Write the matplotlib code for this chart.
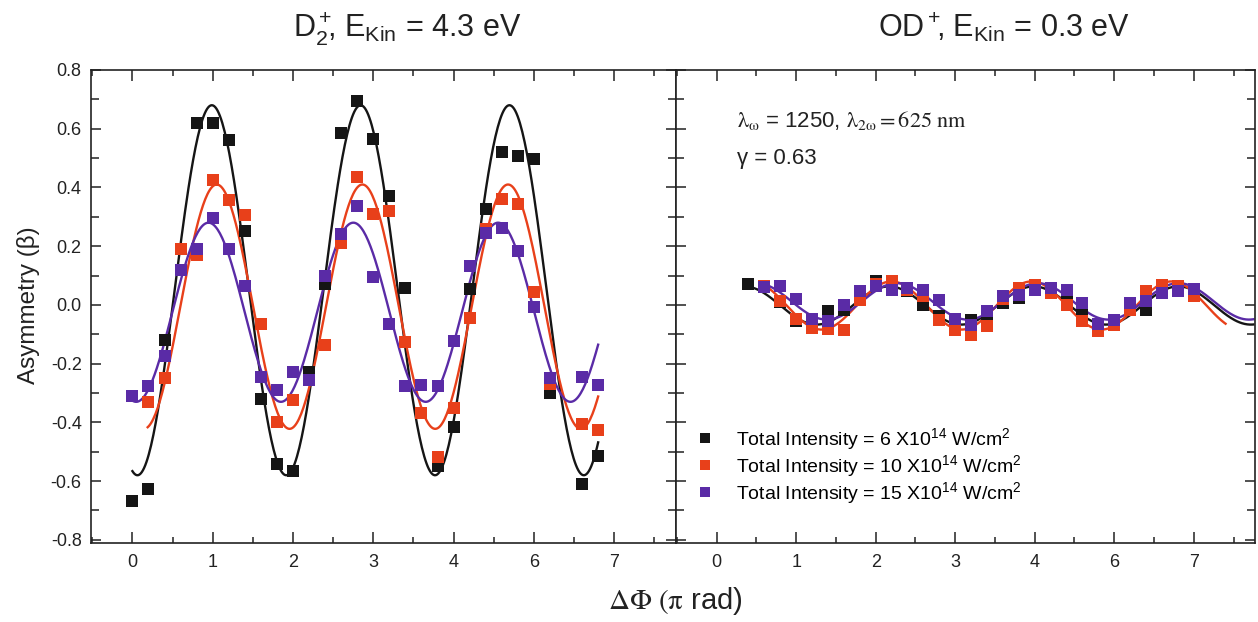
import numpy as np
import matplotlib
matplotlib.use("Agg")
import matplotlib.pyplot as plt
from matplotlib.ticker import FixedLocator, FixedFormatter, MultipleLocator
from matplotlib.lines import Line2D

plt.rcParams['font.family'] = ['Liberation Sans', 'DejaVu Sans']
plt.rcParams['mathtext.fontset'] = 'custom'
plt.rcParams['mathtext.rm'] = 'Liberation Sans'
plt.rcParams['mathtext.it'] = 'Liberation Sans:italic'
plt.rcParams['mathtext.bf'] = 'Liberation Sans:bold'
plt.rcParams['axes.unicode_minus'] = False

nan = np.nan

# ---------------- data ----------------
tick_positions = [0, 1, 2, 3, 4, 5, 6]
tick_labels = ['0', '1', '2', '3', '4', '6', '7']
ytick_values = [-0.8, -0.6, -0.4, -0.2, 0.0, 0.2, 0.4, 0.6, 0.8]
ytick_labels = ['-0.8', '-0.6', '-0.4', '-0.2', '0.0', '0.2', '0.4', '0.6', '0.8']

series_labels = [r'Total Intensity = 6 X10$^{14}$ W/cm$^2$',
                 r'Total Intensity = 10 X10$^{14}$ W/cm$^2$',
                 r'Total Intensity = 15 X10$^{14}$ W/cm$^2$']
series_colors = ['#151515', '#E8401A', '#5A2BA6']

# left panel (D2+)
phase_left = [0.0, 0.2, 0.4, 0.6, 0.8, 1.0, 1.2, 1.4, 1.6, 1.8,
              2.0, 2.2, 2.4, 2.6, 2.8, 3.0, 3.2, 3.4, 3.6, 3.8,
              4.0, 4.2, 4.4, 4.6, 4.8, 5.0, 5.2, 5.4, 5.6, 5.8]
left_black = [-0.666, -0.627, -0.118, nan, 0.620, 0.618, 0.561, 0.250, -0.320, -0.541,
              -0.567, -0.230, 0.072, 0.586, 0.693, 0.564, 0.370, 0.056, nan, -0.548,
              -0.416, 0.054, 0.325, 0.520, 0.507, 0.498, -0.300, nan, -0.609, -0.516]
left_red = [nan, -0.329, -0.249, 0.192, 0.171, 0.425, 0.357, 0.306, -0.065, -0.399,
            -0.325, nan, -0.135, 0.210, 0.436, 0.311, 0.319, -0.126, -0.367, -0.519,
            -0.351, -0.044, 0.260, 0.359, 0.342, 0.043, -0.268, nan, -0.407, -0.425]
left_purple = [-0.309, -0.277, -0.173, 0.118, 0.191, 0.297, 0.192, 0.064, -0.247, -0.291,
               -0.229, -0.257, 0.100, 0.242, 0.336, 0.095, -0.064, -0.277, -0.272, -0.275,
               -0.123, 0.132, 0.245, 0.262, 0.182, -0.008, -0.249, nan, -0.245, -0.274]

# right panel (OD+)
phase_right = [0.4, 0.6, 0.8, 1.0, 1.2, 1.4, 1.6, 1.8, 2.0, 2.2,
               2.4, 2.6, 2.8, 3.0, 3.2, 3.4, 3.6, 3.8, 4.0, 4.2,
               4.4, 4.6, 4.8, 5.0, 5.2, 5.4, 5.6, 5.8, 6.0]
right_black = [0.070, nan, 0.010, -0.056, -0.062, -0.022, -0.016, 0.020, 0.080, nan,
               0.046, 0.001, -0.039, -0.060, -0.052, -0.033, 0.007, 0.024, 0.060, 0.050,
               0.029, -0.022, -0.070, -0.060, -0.010, -0.016, 0.050, 0.050, nan]
right_red = [nan, 0.066, 0.012, -0.048, -0.078, -0.082, -0.084, 0.018, 0.070, 0.080,
             0.050, 0.029, -0.050, -0.084, -0.101, -0.073, 0.020, 0.058, 0.069, 0.041,
             0.001, -0.056, -0.090, -0.067, -0.018, 0.046, 0.069, 0.063, 0.029]
right_purple = [nan, 0.060, 0.066, 0.020, -0.048, -0.056, 0.001, 0.046, 0.063, 0.052,
                0.058, 0.052, 0.016, -0.048, -0.067, -0.022, 0.029, 0.035, 0.052, 0.058,
                0.052, 0.007, -0.064, -0.050, 0.007, 0.012, 0.041, 0.046, 0.055]

# sine-fit parameters: offset, amplitude, peak position, period, start, end
fit_left = [(0.050, 0.630, 0.989, 1.853, 0.00, 5.80),
            (-0.006, 0.416, 1.050, 1.814, 0.19, 5.80),
            (-0.025, 0.305, 0.948, 1.803, 0.00, 5.80)]
fit_right = [(-0.002, 0.065, 2.167, 1.820, 0.45, 6.75),
             (-0.002, 0.082, 2.200, 1.760, 0.58, 6.40),
             (0.012, 0.062, 2.270, 1.770, 0.58, 6.75)]

# ---------------- figure ----------------
fig = plt.figure(figsize=(12.58, 6.22), dpi=100)
ax1 = fig.add_axes([0.0727, 0.1264, 0.4647, 0.7611])
ax2 = fig.add_axes([0.5374, 0.1264, 0.4602, 0.7611])

xlim = (-0.51, 6.77)
ylim = (-0.812, 0.80)


def style(ax, show_y):
    ax.set_xlim(*xlim)
    ax.set_ylim(*ylim)
    ax.xaxis.set_major_locator(FixedLocator(tick_positions))
    ax.xaxis.set_major_formatter(FixedFormatter(tick_labels))
    ax.xaxis.set_minor_locator(MultipleLocator(0.5))
    ax.yaxis.set_major_locator(FixedLocator(ytick_values))
    ax.yaxis.set_minor_locator(MultipleLocator(0.1))
    if show_y:
        ax.yaxis.set_major_formatter(FixedFormatter(ytick_labels))
    else:
        ax.set_yticklabels([])
    ax.tick_params(axis='both', which='both', direction='in', top=True, right=True,
                   color='#222222', width=1.1)
    ax.tick_params(axis='x', which='major', length=8, labelsize=13, pad=8, labelcolor='#222222')
    ax.tick_params(axis='x', which='minor', length=4.5)
    ax.tick_params(axis='y', which='major', length=7, labelsize=13, pad=7, labelcolor='#222222')
    ax.tick_params(axis='y', which='minor', length=6)
    for sp in ax.spines.values():
        sp.set_linewidth(1.2)
        sp.set_color('#222222')


style(ax1, True)
style(ax2, False)

left_sets = [left_black, left_red, left_purple]
right_sets = [right_black, right_red, right_purple]

for ax, xs, sets, fits in [(ax1, phase_left, left_sets, fit_left),
                           (ax2, phase_right, right_sets, fit_right)]:
    for vals, col, fp in zip(sets, series_colors, fits):
        y0, A, xp, P, xa, xb = fp
        xx = np.linspace(xa, xb, 400)
        ax.plot(xx, y0 + A * np.cos(2 * np.pi * (xx - xp) / P), color=col, lw=1.7, zorder=2)
    for vals, col in zip(sets, series_colors):
        ax.plot(xs, vals, linestyle='none', marker='s', markersize=8.3,
                color=col, markeredgewidth=0, zorder=3)

handles = [Line2D([], [], linestyle='none', marker='s', markersize=7.5, color=c,
                  markeredgewidth=0) for c in series_colors]
ax2.legend(handles, series_labels, loc='upper left', bbox_to_anchor=(0.02, 0.265),
           frameon=False, fontsize=14, handlelength=1.0, handletextpad=1.1,
           labelspacing=0.07, borderaxespad=0)

ax2.text(0.105, 0.880, r'$\mathrm{λ}_{\mathrm{ω}}$ = 1250, $\mathrm{λ}_{\mathrm{2ω}} = \mathrm{625\ nm}$',
         transform=ax2.transAxes, fontsize=16, va='baseline', ha='left',
         math_fontfamily='stix', color='#222222')
ax2.text(0.105, 0.8014, 'γ = 0.63', transform=ax2.transAxes, fontsize=16,
         va='baseline', ha='left', color='#222222')

fig.text(0.3235, 0.941, r'D$_2^+\!\!$, E$_{\rm Kin}$ = 4.3 eV', fontsize=22,
         ha='center', va='baseline', color='#222222')
fig.text(0.798, 0.941, r'OD$^+\!\!$, E$_{\rm Kin}$ = 0.3 eV', fontsize=22,
         ha='center', va='baseline', color='#222222')

fig.text(0.0223, 0.51, 'Asymmetry (β)', rotation=90, fontsize=17.5,
         ha='center', va='center', color='#222222')
fig.text(0.537, 0.034, r'$\mathrm{ΔΦ\ (π}$ rad)', fontsize=21,
         ha='center', va='center', math_fontfamily='stix', color='#222222')

fig.savefig('out.png', dpi=100)
